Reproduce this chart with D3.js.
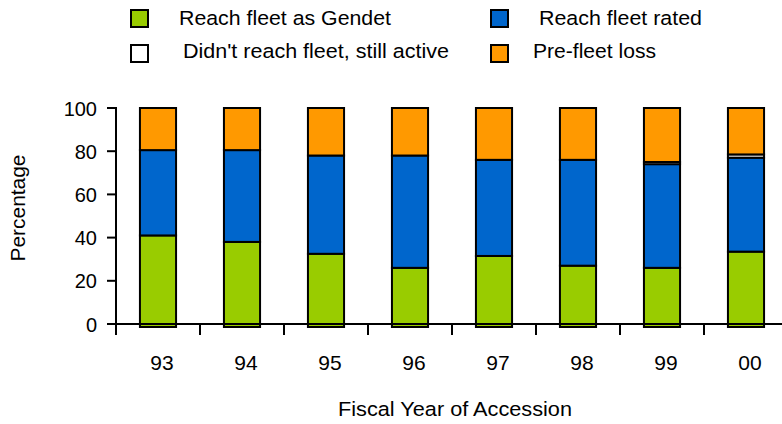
<!DOCTYPE html>
<html><head><meta charset="utf-8">
<script src="https://cdn.jsdelivr.net/npm/d3@7"></script>
<style>body{margin:0;background:#fff}svg{display:block}text{font-family:"Liberation Sans",Arial,sans-serif;fill:#000}</style>
</head><body><svg id="c" width="782" height="424"></svg>
<script>
const years = ["93","94","95","96","97","98","99","00"];
const gendet = [41, 38, 32.5, 26, 31.5, 27, 26, 33.5];
const rated = [39.5, 42.5, 45.5, 52, 44.5, 49, 48, 43.5];
const active = [0, 0, 0, 0, 0, 0, 1, 1.5];
const loss = [19.5, 19.5, 22, 22, 24, 24, 25, 21.5];
const yTicks = [0, 20, 40, 60, 80, 100];
const seriesNames = ["Reach fleet as Gendet","Reach fleet rated","Didn't reach fleet, still active","Pre-fleet loss"];
const colors = ["#99cc00","#0066cc","#ffffff","#ff9900"];

const svg = d3.select("#c");
const x = d3.scaleBand().domain(years).range([116, 788]).paddingInner(0.57).paddingOuter(0.285);
const y = d3.scaleLinear().domain([0,100]).range([324,108]);

const rows = years.map((yr,i)=>({year:yr, gendet:gendet[i], rated:rated[i], active:active[i], loss:loss[i]}));
const keys = ["gendet","rated","active","loss"];
const stacked = d3.stack().keys(keys)(rows);

const g = svg.append("g");
stacked.forEach((layer,k)=>{
  g.selectAll(null).data(layer).enter().append("rect")
    .attr("x", d=>x(d.data.year))
    .attr("width", x.bandwidth())
    .attr("y", d=>y(d[1]))
    .attr("height", d=> (k===0 ? y(d[0])+3 : y(d[0])) - y(d[1]))
    .attr("fill", colors[k])
    .attr("stroke","#000").attr("stroke-width",2)
    .style("display", d=> (d[1]-d[0])>0 ? null : "none");
});

// y axis
svg.append("line").attr("x1",116).attr("x2",116).attr("y1",y(100)-1).attr("y2",335).attr("stroke","#000").attr("stroke-width",2);
yTicks.forEach(t=>{
  svg.append("line").attr("x1",107).attr("x2",116).attr("y1",y(t)).attr("y2",y(t)).attr("stroke","#000").attr("stroke-width",2);
  svg.append("text").attr("x",97).attr("y",y(t)+7.5).attr("text-anchor","end").attr("font-size",20).text(t);
});
// x axis
svg.append("line").attr("x1",116).attr("x2",782).attr("y1",y(0)).attr("y2",y(0)).attr("stroke","#000").attr("stroke-width",2);
years.forEach(yr=>{
  const bx = x(yr) - x.step()*x.paddingOuter();
  svg.append("line").attr("x1",bx).attr("x2",bx).attr("y1",y(0)).attr("y2",y(0)+11).attr("stroke","#000").attr("stroke-width",2);
  svg.append("text").attr("x",x(yr)+x.bandwidth()/2+4).attr("y",370).attr("text-anchor","middle").attr("font-size",21).text(yr);
});
svg.append("text").attr("x",338).attr("y",416).attr("font-size",20.5)
  .attr("textLength",234).attr("lengthAdjust","spacingAndGlyphs").text("Fiscal Year of Accession");
svg.append("text").attr("transform","translate(25,208) rotate(-90)").attr("text-anchor","middle").attr("font-size",20.5)
  .attr("textLength",107).attr("lengthAdjust","spacingAndGlyphs").text("Percentage");

// legend
const legPos = [[130,9,179,25,212],[490,9,539,25,163],[130,44,183,58,266],[490,44,533,58,123]];
seriesNames.forEach((n,i)=>{
  const p = legPos[i];
  svg.append("rect").attr("x",p[0]+1).attr("y",p[1]+1).attr("width",17).attr("height",17).attr("fill",colors[i]).attr("stroke","#000").attr("stroke-width",2);
  svg.append("text").attr("x",p[2]).attr("y",p[3]).attr("font-size",20.5)
    .attr("textLength",p[4]).attr("lengthAdjust","spacingAndGlyphs").text(n);
});
</script></body></html>
